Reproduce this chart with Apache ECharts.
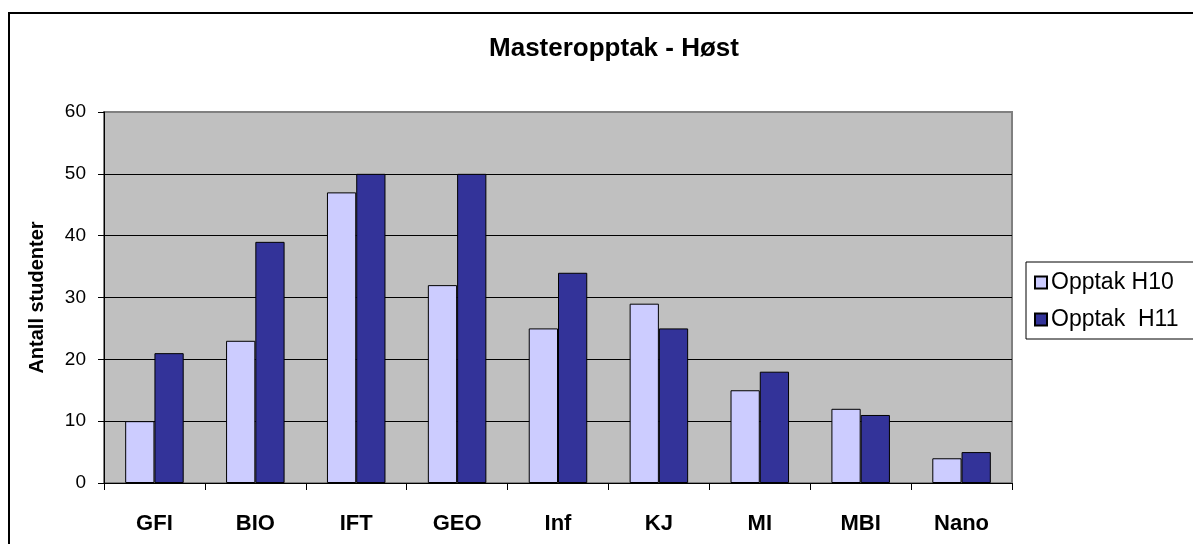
<!doctype html>
<html lang="no">
<head>
    <meta charset="UTF-8">
    <title>Masteropptak - Høst</title>
    <script src="https://cdn.jsdelivr.net/npm/echarts@6/dist/echarts.min.js"></script>
    <style>
        html, body { margin: 0; padding: 0; background: #fff; }
        #main { width: 1193px; height: 544px; }
    </style>
</head>
<body>
<div id="main"></div>
<script type="text/javascript">
    // data
    var categories = ['GFI', 'BIO', 'IFT', 'GEO', 'Inf', 'KJ', 'MI', 'MBI', 'Nano'];
    var opptakH10 = [10, 23, 47, 32, 25, 29, 15, 12, 4];
    var opptakH11 = [21, 39, 50, 50, 34, 25, 18, 11, 5];
    var seriesNames = ['Opptak H10', 'Opptak  H11'];

    var font = 'Arial, "Liberation Sans", sans-serif';
    var myChart = echarts.init(document.getElementById('main'));

    var option = {
        backgroundColor: '#ffffff',
        animation: false,
        textStyle: {fontFamily: font},
        title: {
            text: 'Masteropptak - Høst',
            left: 609,
            textAlign: 'center',
            top: 31,
            textStyle: {fontSize: 26, fontWeight: 'bold', color: '#000', fontFamily: font}
        },
        graphic: [{
            type: 'rect',
            shape: {x: 9, y: 13, width: 1200, height: 560},
            style: {fill: 'none', stroke: '#000', lineWidth: 2},
            silent: true
        }],
        legend: {
            orient: 'vertical',
            left: 1026,
            top: 262,
            backgroundColor: '#fff',
            borderColor: '#000',
            borderWidth: 1,
            padding: [9, 24, 8, 8],
            itemGap: 14,
            itemWidth: 12,
            itemHeight: 12,
            icon: 'rect',
            textStyle: {fontSize: 23, color: '#000', fontFamily: font, padding: [0, 0, 0, -1]},
            data: seriesNames
        },
        grid: {
            left: 104,
            top: 112,
            width: 908,
            height: 371,
            show: true,
            backgroundColor: '#c0c0c0',
            borderColor: '#808080',
            borderWidth: 2
        },
        xAxis: {
            type: 'category',
            data: categories,
            axisLine: {lineStyle: {color: '#000', width: 1}},
            axisTick: {show: true, length: 7, lineStyle: {color: '#000'}},
            axisLabel: {fontSize: 22, fontWeight: 'bold', color: '#000', margin: 30, fontFamily: font},
            splitLine: {show: false}
        },
        yAxis: {
            type: 'value',
            min: 0,
            max: 60,
            interval: 10,
            name: 'Antall studenter',
            nameLocation: 'middle',
            nameGap: 57,
            nameTextStyle: {fontSize: 20, fontWeight: 'bold', color: '#000', fontFamily: font},
            axisLine: {show: true, lineStyle: {color: '#000', width: 1}},
            axisTick: {show: true, length: 6, lineStyle: {color: '#000'}},
            axisLabel: {fontSize: 19, color: '#000', margin: 18, fontFamily: font},
            splitLine: {
                show: true,
                lineStyle: {color: ['#000', '#000', '#000', '#000', '#000', '#000', '#808080'], width: 1}
            }
        },
        series: [
            {
                name: seriesNames[0],
                type: 'bar',
                data: opptakH10,
                barGap: '0%',
                barCategoryGap: '42%',
                itemStyle: {color: '#ccccff', borderColor: '#000', borderWidth: 1}
            },
            {
                name: seriesNames[1],
                type: 'bar',
                data: opptakH11,
                barGap: '0%',
                barCategoryGap: '42%',
                itemStyle: {color: '#333399', borderColor: '#000', borderWidth: 1}
            }
        ]
    };

    myChart.setOption(option);
</script>
</body>
</html>
